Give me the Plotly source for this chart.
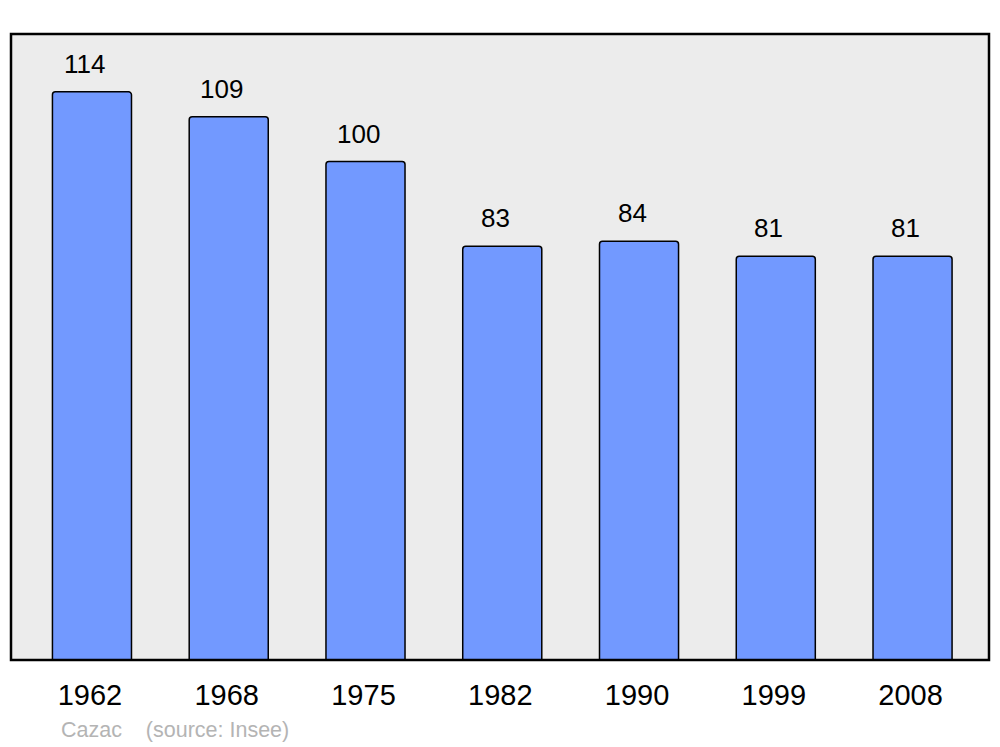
import plotly.graph_objects as go

years = ["1962", "1968", "1975", "1982", "1990", "1999", "2008"]
population = [114, 109, 100, 83, 84, 81, 81]
commune = "Cazac"
source = "(source: Insee)"

idx = list(range(len(years)))

fig = go.Figure()
fig.add_trace(go.Bar(
    x=idx, y=population, width=0.578,
    marker=dict(color="#7299ff", line=dict(color="#000000", width=1.5), cornerradius=3),
    hoverinfo="skip",
))

for i, v in zip(idx, population):
    fig.add_annotation(x=i, y=v, text=str(v), showarrow=False, xref="x", yref="y",
                       yanchor="middle", yshift=28, xshift=-7,
                       font=dict(family="Liberation Sans, Arial", size=26, color="#000000"))

fig.add_annotation(xref="paper", yref="paper", x=0, y=0, xanchor="left", yanchor="middle",
                   xshift=48, yshift=-70, showarrow=False,
                   text=commune + "&nbsp;&nbsp;&nbsp;&nbsp;" + source,
                   font=dict(family="Liberation Sans, Arial", size=21.5, color="#b4b4b4"))

fig.add_shape(type="rect", xref="paper", yref="paper", x0=0, x1=1, y0=0, y1=1,
              line=dict(color="#000000", width=2.5), layer="above")

fig.update_layout(
    width=1000, height=747,
    margin=dict(l=3, r=19, t=26, b=95),
    paper_bgcolor="#ffffff", plot_bgcolor="#ececec",
    showlegend=False,
    xaxis=dict(range=[-0.592, 6.559], tickvals=idx, ticktext=years, showgrid=False,
               zeroline=False, ticks="outside", ticklen=9, tickcolor="rgba(0,0,0,0)",
               ticklabelshift=-2,
               tickfont=dict(family="Liberation Sans, Arial", size=29, color="#000000")),
    yaxis=dict(range=[0, 125.6], showgrid=False, zeroline=False, showticklabels=False, ticks=""),
)

fig.write_html("out.html")
